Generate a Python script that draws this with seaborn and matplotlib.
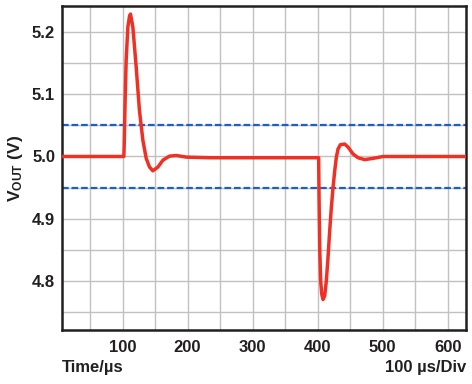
import matplotlib
matplotlib.use("Agg")
import matplotlib.pyplot as plt
import pandas as pd
import seaborn as sns

# Output voltage trace
time_us = [0, 102, 102.5, 104, 105.6, 108.2, 110.8, 112.3, 115.9, 121, 126, 131.3, 136.4,
           141.5, 146.6, 154.4, 162, 172, 182.6, 198, 234, 401.5,
           402.1, 403.1, 404.6, 406.2, 408.2, 410.8, 413.3, 415.9, 418.5, 421, 423.6,
           426.2, 428.7, 431.3, 434.9, 441.5, 446.7, 454.4, 462, 472.3, 485.1, 500.5, 630]
vout = [5.0, 5.0, 5.015, 5.09, 5.155, 5.208, 5.226, 5.229, 5.208, 5.144, 5.074, 5.026, 4.997,
        4.983, 4.977, 4.983, 4.994, 5.0005, 5.0016, 4.999, 4.998, 4.998,
        4.934, 4.854, 4.800, 4.779, 4.770, 4.776, 4.800, 4.838, 4.881, 4.918, 4.950,
        4.977, 4.999, 5.012, 5.019, 5.020, 5.015, 5.004, 4.998, 4.995, 4.997, 5.0, 5.0]

# tolerance band
band_limits = [5.05, 4.95]

x_ticks = [100, 200, 300, 400, 500, 600]
y_ticks = [4.8, 4.9, 5.0, 5.1, 5.2]

df = pd.DataFrame({"time": time_us, "vout": vout})

sns.set_theme(style="white")
plt.rcParams["font.family"] = ["Liberation Sans", "DejaVu Sans"]
plt.rcParams["font.weight"] = "bold"
plt.rcParams["mathtext.fontset"] = "custom"
plt.rcParams["mathtext.rm"] = "Liberation Sans:bold"
plt.rcParams["mathtext.it"] = "Liberation Sans:bold"
plt.rcParams["mathtext.bf"] = "Liberation Sans:bold"

fig = plt.figure(figsize=(4.72, 3.84), dpi=100)
ax = fig.add_axes([0.1314, 0.1406, 0.8559, 0.8438])

for lim in band_limits:
    ax.axhline(lim, color="#1f5fbf", lw=1.6, dashes=(3, 1.3), zorder=2)

sns.lineplot(data=df, x="time", y="vout", ax=ax, color="#ee3124", lw=2.5,
             sort=False, zorder=3)

ax.set_xlim(7, 628)
ax.set_ylim(4.721, 5.242)
ax.set_xticks(x_ticks)
ax.set_xticks([50, 150, 250, 350, 450, 550], minor=True)
ax.set_yticks(y_ticks)
ax.set_yticks([4.75, 4.85, 4.95, 5.05, 5.15], minor=True)
ax.set_xticklabels([str(t) for t in x_ticks])
ax.set_yticklabels([f"{t:.1f}" for t in y_ticks])
ax.grid(True, which="both", color="#c4c0c0", lw=1.0, zorder=0)
ax.set_axisbelow(True)
ax.tick_params(which="both", length=0, labelsize=12, colors="#231f20")
ax.tick_params(axis="x", pad=7)
ax.tick_params(axis="y", pad=5)
for s in ax.spines.values():
    s.set_visible(True)
    s.set_color("#231f20")
    s.set_linewidth(1.8)

ax.set_xlabel("")
ax.set_ylabel(r"V$_{\mathrm{OUT}}$ (V)", fontsize=12.5, fontweight="bold",
              color="#231f20", labelpad=5)

fig.text(0.1314, 0.042, "Time/µs", fontsize=12, fontweight="bold",
         color="#231f20", ha="left", va="center")
fig.text(0.9873, 0.042, "100 µs/Div", fontsize=12, fontweight="bold",
         color="#231f20", ha="right", va="center")

fig.savefig("out.png", dpi=100)
